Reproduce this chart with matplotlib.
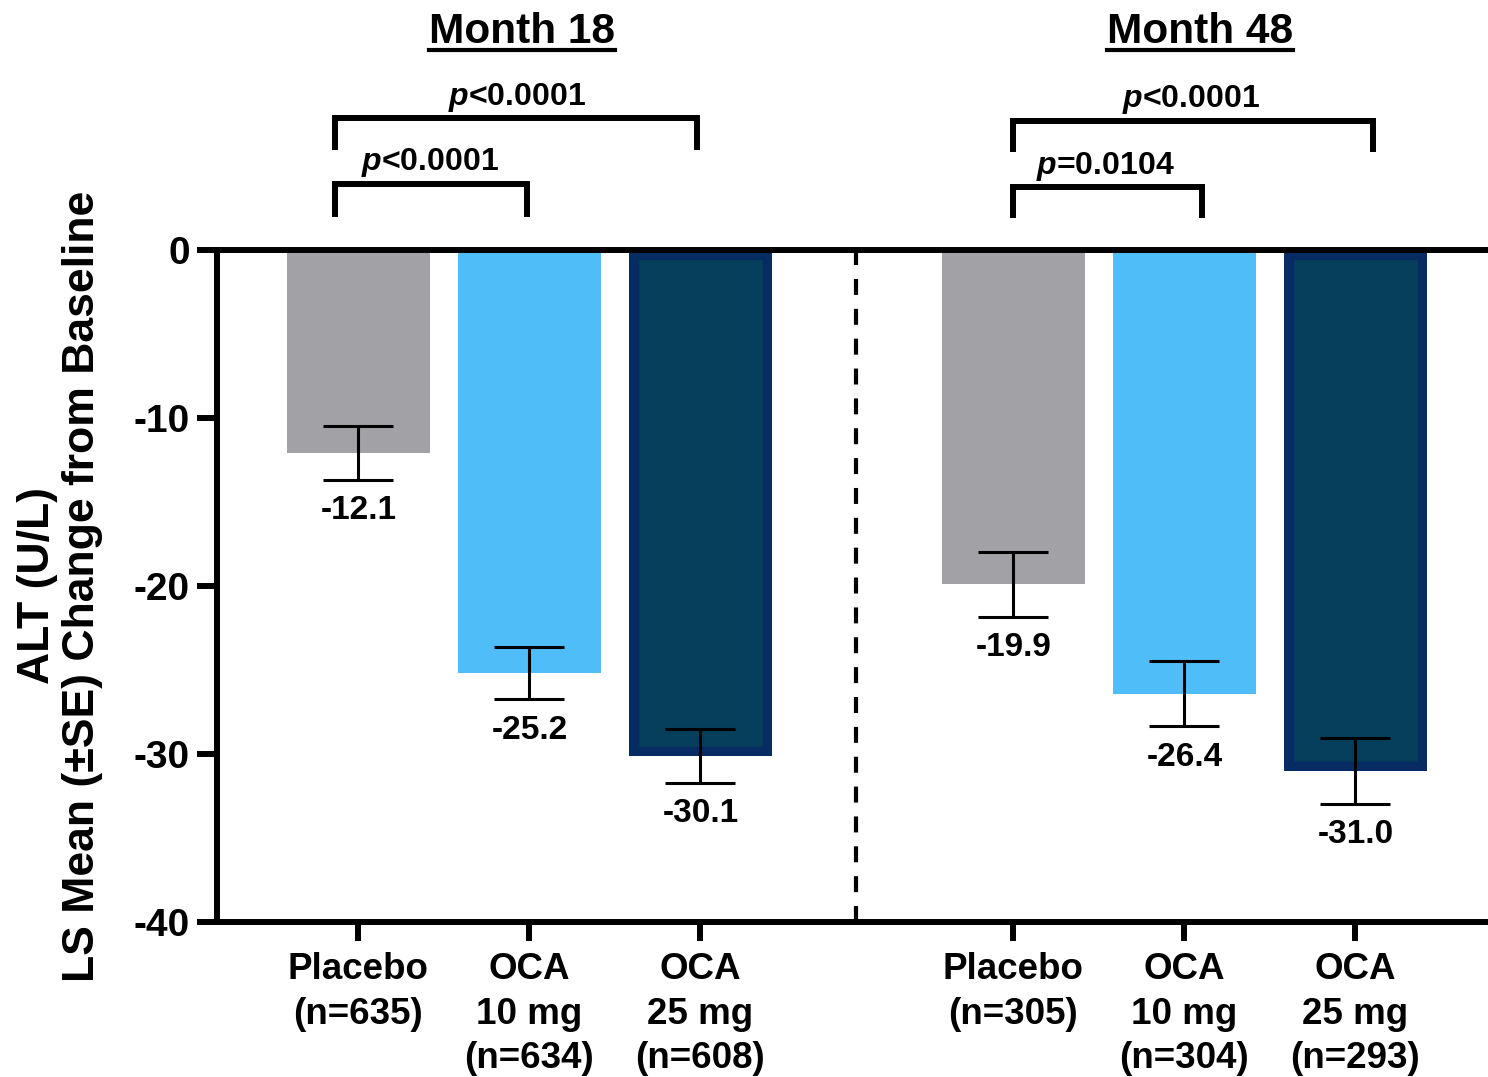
import numpy as np
import matplotlib
matplotlib.use("Agg")
import matplotlib.pyplot as plt
from matplotlib.lines import Line2D

plt.rcParams["font.family"] = ["Liberation Sans", "DejaVu Sans"]
plt.rcParams["font.weight"] = "bold"
plt.rcParams["mathtext.fontset"] = "custom"
plt.rcParams["mathtext.it"] = "Liberation Sans:italic:bold"
plt.rcParams["mathtext.rm"] = "Liberation Sans:bold"
plt.rcParams["lines.scale_dashes"] = False
plt.rcParams["axes.unicode_minus"] = False

# data
groups = ["Month 18", "Month 48"]
tick_labels = [
    "Placebo\n(n=635)", "OCA\n10 mg\n(n=634)", "OCA\n25 mg\n(n=608)",
    "Placebo\n(n=305)", "OCA\n10 mg\n(n=304)", "OCA\n25 mg\n(n=293)",
]
ls_mean = [-12.1, -25.2, -30.1, -19.9, -26.4, -31.0]
se = [1.6, 1.55, 1.6, 1.95, 1.95, 1.98]
p_outer = [r"$p$<0.0001", r"$p$<0.0001"]
p_inner = [r"$p$<0.0001", r"$p$=0.0104"]

face_colors = ["#A2A1A6", "#4FBDF8", "#053F5C"] * 2
edge_colors = ["none", "none", "#062C63"] * 2

group_gap = 3.83
x = np.concatenate([np.arange(3), np.arange(3) + group_gap])

fig = plt.figure(figsize=(14.88, 10.77), dpi=100)
ax = fig.add_axes([217 / 1488, 155 / 1077, 1271 / 1488, 672 / 1077])

bars = ax.bar(x, ls_mean, width=0.836, color=face_colors, zorder=2)
for b, ec in zip(bars, edge_colors):
    if ec != "none":
        # edge drawn only inside the bar
        b.set_edgecolor(ec)
        b.set_linewidth(14)
        b.set_clip_path(b)

ax.errorbar(x, ls_mean, yerr=se, fmt="none", ecolor="black",
            elinewidth=2.2, capsize=25, capthick=2.2, zorder=3)

for xi, m, s in zip(x, ls_mean, se):
    ax.annotate(f"{m:.1f}", xy=(xi, m - s), xytext=(0, -11),
                textcoords="offset points", ha="center", va="top",
                fontsize=24, fontweight="bold")

ax.set_xlim(-0.827, 6.605)
ax.set_ylim(-40, 0)
ax.set_yticks([0, -10, -20, -30, -40])
ax.set_xticks(x)
ax.set_xticklabels(tick_labels, fontsize=26.5, fontweight="bold", linespacing=1.36)
ax.tick_params(axis="y", labelsize=28, width=4.3, length=14.4, pad=5)
ax.tick_params(axis="x", width=4.3, length=13.5, pad=8)
for sp in ["left", "bottom", "top"]:
    ax.spines[sp].set_linewidth(4.3)
ax.spines["right"].set_visible(False)

ax.set_ylabel("ALT (U/L)\nLS Mean (±SE) Change from Baseline",
              fontsize=32, fontweight="bold", linespacing=1.12)
ax.yaxis.set_label_coords(-0.09, 0.5)

# divider between groups
ax.axvline((2 + group_gap) / 2 - 0.005, color="black", lw=3,
           linestyle=(0, (11.5, 10)), zorder=1)

# significance brackets
def bracket(x0, x1, y_top, y_bot, label, text_x):
    ax.plot([x0, x0, x1, x1], [y_bot, y_top, y_top, y_bot], color="black",
            lw=4.3, clip_on=False, solid_capstyle="butt", solid_joinstyle="miter")
    ax.text(text_x, y_top + 0.25, label, ha="center", va="bottom",
            fontsize=23, fontweight="bold", clip_on=False)

bracket(-0.137, 1.98, 7.85, 5.95, p_outer[0], 0.927)
bracket(-0.137, 0.985, 3.95, 1.95, p_inner[0], 0.42)
bracket(group_gap, group_gap + 2.1, 7.7, 5.85, p_outer[1], group_gap + 1.04)
bracket(group_gap, group_gap + 1.1, 3.75, 1.9, p_inner[1], group_gap + 0.54)

# group titles with underline
title_x = [0.956, group_gap + 1.09]
titles = []
for g in range(2):
    t = ax.text(title_x[g], 12.32, groups[g], ha="center", va="baseline",
                fontsize=30.5, fontweight="bold", clip_on=False)
    titles.append(t)

fig.canvas.draw()
renderer = fig.canvas.get_renderer()
for t in titles:
    bb = t.get_window_extent(renderer)
    base_px = ax.transData.transform((0, 12.32))[1]
    y_line = (base_px - 7) / fig.bbox.height
    fig.add_artist(Line2D([bb.x0 / fig.bbox.width, bb.x1 / fig.bbox.width],
                          [y_line, y_line], color="black", lw=3,
                          transform=fig.transFigure))

fig.savefig("out.png", dpi=100)
